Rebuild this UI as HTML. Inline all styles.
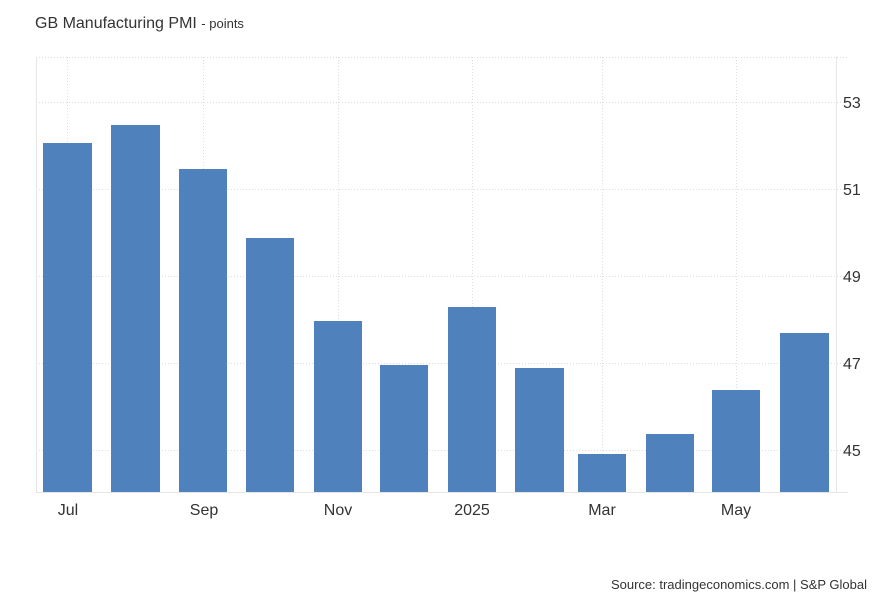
<!DOCTYPE html>
<html><head><meta charset="utf-8"><style>
html,body{margin:0;padding:0;background:#fff;width:882px;height:603px;overflow:hidden}
text{font-family:"Liberation Sans",Arial,sans-serif}
</style></head><body>
<svg width="882" height="603" xmlns="http://www.w3.org/2000/svg">
<text x="35" y="28" font-size="16" fill="#333">GB Manufacturing PMI <tspan font-size="13">- points</tspan></text>
<g stroke="#ddd" stroke-width="1" stroke-dasharray="1,2" fill="none">
<line x1="36" y1="57.5" x2="848" y2="57.5"/>
<line x1="36" y1="102.5" x2="848" y2="102.5"/>
<line x1="36" y1="189.5" x2="848" y2="189.5"/>
<line x1="36" y1="276.5" x2="848" y2="276.5"/>
<line x1="36" y1="363.5" x2="848" y2="363.5"/>
<line x1="36" y1="450.5" x2="848" y2="450.5"/>
<line x1="67.5" y1="57" x2="67.5" y2="492"/>
<line x1="203.5" y1="57" x2="203.5" y2="492"/>
<line x1="338.5" y1="57" x2="338.5" y2="492"/>
<line x1="472.5" y1="57" x2="472.5" y2="492"/>
<line x1="602.5" y1="57" x2="602.5" y2="492"/>
<line x1="736.5" y1="57" x2="736.5" y2="492"/>
</g>
<line x1="36.5" y1="57" x2="36.5" y2="492" stroke="#e6e6e6"/>
<line x1="836.5" y1="57" x2="836.5" y2="492" stroke="#e6e6e6"/>
<line x1="36" y1="492.5" x2="848" y2="492.5" stroke="#e6e6e6"/>
<g fill="#4f81bd">
<rect x="43" y="143" width="49" height="349"/>
<rect x="111" y="125" width="49" height="367"/>
<rect x="179" y="169" width="48" height="323"/>
<rect x="246" y="238" width="48" height="254"/>
<rect x="314" y="321" width="48" height="171"/>
<rect x="380" y="365" width="48" height="127"/>
<rect x="448" y="307" width="48" height="185"/>
<rect x="515" y="368" width="49" height="124"/>
<rect x="578" y="454" width="48" height="38"/>
<rect x="646" y="434" width="48" height="58"/>
<rect x="712" y="390" width="48" height="102"/>
<rect x="780" y="333" width="49" height="159"/>
</g>
<g font-size="16" fill="#333">
<text x="843" y="108">53</text>
<text x="843" y="195">51</text>
<text x="843" y="282">49</text>
<text x="843" y="369">47</text>
<text x="843" y="456">45</text>
</g>
<g font-size="16" fill="#333" text-anchor="middle">
<text x="68" y="515">Jul</text>
<text x="204" y="515">Sep</text>
<text x="338" y="515">Nov</text>
<text x="472" y="515">2025</text>
<text x="602" y="515">Mar</text>
<text x="736" y="515">May</text>
</g>
<text x="867" y="589" font-size="13" fill="#333" text-anchor="end">Source: tradingeconomics.com | S&amp;P Global</text>
</svg>
</body></html>
